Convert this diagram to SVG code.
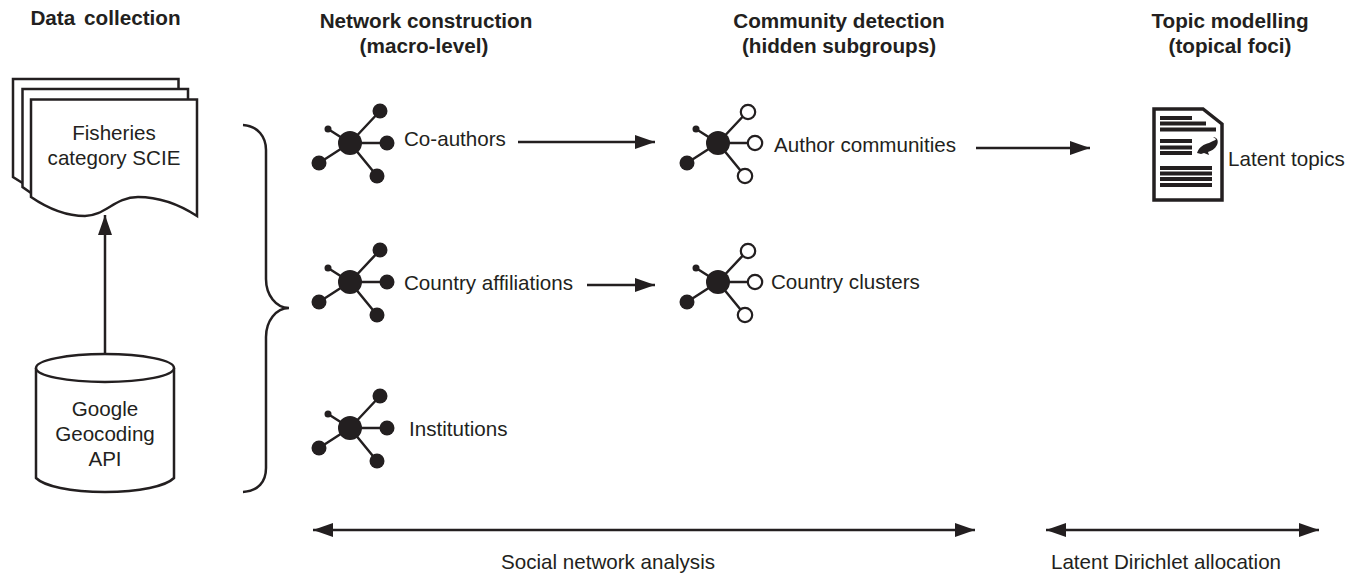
<svg xmlns="http://www.w3.org/2000/svg" width="1359" height="573" viewBox="0 0 1359 573">
<style>
text{font-family:"Liberation Sans",Arial,sans-serif;font-size:20.6px;fill:#231f20}
.t{font-weight:bold;font-size:20.7px;text-anchor:middle}
.m{text-anchor:middle}
.s{fill:none;stroke:#231f20;stroke-width:2.5}
.w{fill:#fff;stroke:#231f20;stroke-width:2.5}
.c{stroke:#231f20;stroke-width:2.5;fill:none}
.k{fill:#231f20}
.o{fill:#fff;stroke:#231f20;stroke-width:2.2}
</style>
<defs>
<marker id="a" markerUnits="userSpaceOnUse" markerWidth="22" markerHeight="16" refX="20" refY="7" orient="auto-start-reverse"><path d="M0 0L20 7L0 14Z" fill="#231f20"/></marker>
<g id="spokes"><path class="c" d="M0 0L30 -32M0 0L37 0M0 0L-22 -14M0 0L-31 20M0 0L27 33"/><circle class="k" r="12"/><circle class="k" cx="-22" cy="-14" r="3.5"/><circle class="k" cx="-31" cy="20" r="7.5"/></g>
<g id="filled"><use href="#spokes"/><circle class="k" cx="30" cy="-32" r="7.5"/><circle class="k" cx="37" r="7.5"/><circle class="k" cx="27" cy="33" r="7.5"/></g>
<g id="open"><use href="#spokes"/><circle class="o" cx="30" cy="-31" r="7.2"/><circle class="o" cx="37" r="7.2"/><circle class="o" cx="27" cy="33" r="7.2"/></g>
</defs>
<g id="titles">
<text class="t" x="105.500" y="25" word-spacing="3">Data collection</text>
<text class="t" x="426" y="28">Network construction</text><text class="t" x="424" y="53">(macro-level)</text>
<text class="t" x="839" y="28">Community detection</text><text class="t" x="839" y="53">(hidden subgroups)</text>
<text class="t" x="1230" y="28">Topic modelling</text><text class="t" x="1230" y="53">(topical foci)</text>
</g>
<g id="connectors">
<path class="c" d="M105 354V215" marker-end="url(#a)"/>
<path class="c" d="M518 142H655" marker-end="url(#a)"/>
<path class="c" d="M976 148H1090" marker-end="url(#a)"/>
<path class="c" d="M587 285H655" marker-end="url(#a)"/>
<path class="c" d="M313 530H975" marker-start="url(#a)" marker-end="url(#a)"/>
<path class="c" d="M1046 530H1319" marker-start="url(#a)" marker-end="url(#a)"/>
<path class="s" d="M243 125C258 126 266 137 266 150V279C266 295 276 308 289 308C276 308 266 321 266 337V468C266 482 258 491 243 492"/>
</g>
<g id="fisheries">
<path class="s" d="M178.500 89V79H13V177L22.500 183"/>
<path class="s" d="M188 99.500V89H22.500V187L31 193"/>
<path class="w" d="M31 99.500H197V216C180 205 160 197 138 197C115 197 105 216 85 216C68 216 50 210 31 197Z"/>
<text class="m" x="114" y="140">Fisheries</text><text class="m" x="114" y="165">category SCIE</text>
</g>
<g id="google">
<path class="w" d="M36 368V478C44 486 70 492 105 492C140 492 166 486 174 478V368"/>
<ellipse class="w" cx="105" cy="368" rx="69" ry="14"/>
<text class="m" x="105" y="416">Google</text><text class="m" x="105" y="441">Geocoding</text><text class="m" x="105" y="466">API</text>
</g>
<g id="co-authors"><use href="#filled" x="350" y="143"/><text x="404" y="146">Co-authors</text></g>
<g id="country-affiliations"><use href="#filled" x="350" y="282"/><text x="404" y="290">Country affiliations</text></g>
<g id="institutions"><use href="#filled" x="350" y="428"/><text x="409" y="436">Institutions</text></g>
<g id="author-communities"><use href="#open" x="718" y="143"/><text x="774" y="152">Author communities</text></g>
<g id="country-clusters"><use href="#open" x="718" y="282"/><text x="771" y="289">Country clusters</text></g>
<g id="latent-topics">
<path d="M1154 109H1203L1222 124V200H1154Z" fill="#fff" stroke="#231f20" stroke-width="3.500"/>
<path class="k" d="M1160 116H1192V120H1160ZM1160 121.500H1206V125.500H1160ZM1160 127.500H1216V131.500H1160ZM1160 139H1192V143H1160ZM1160 145.500H1192V149.500H1160ZM1160 151H1192V155H1160ZM1160 166H1212V170H1160ZM1160 171.500H1212V175.500H1160ZM1160 177H1212V181H1160ZM1160 183H1212V187H1160Z"/>
<path class="k" d="M1197 153C1199 147 1204 144 1209 143L1213 141C1215 140 1216 140 1216 139L1213 137C1217 137 1219 141 1217 145C1215 149 1211 151 1208 152L1209 155L1204 153L1201 154Z"/>
<text x="1228" y="166">Latent topics</text>
</g>
<g id="labels">
<text class="m" x="608" y="569">Social network analysis</text>
<text class="m" x="1166" y="569">Latent Dirichlet allocation</text>
</g>
</svg>
